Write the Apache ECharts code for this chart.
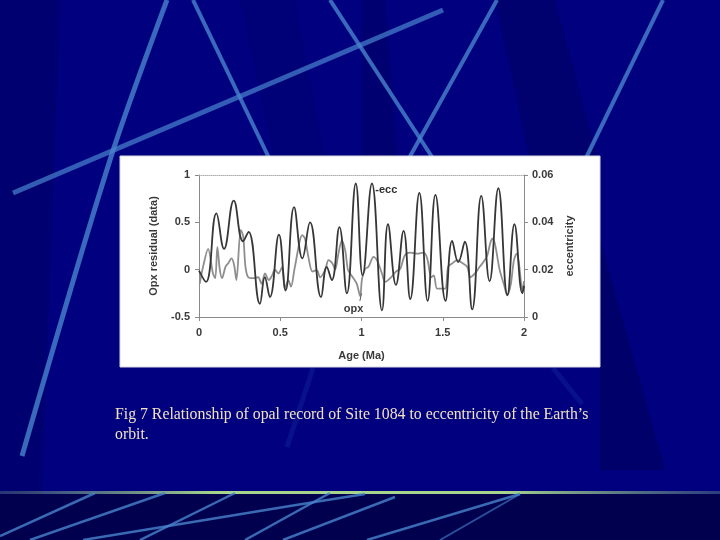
<!DOCTYPE html>
<html><head><meta charset="utf-8">
<script src="https://cdn.jsdelivr.net/npm/echarts@6.0.0/dist/echarts.min.js"></script>
<style>html,body{margin:0;padding:0;background:#00007e}#c{width:720px;height:540px}</style>
</head><body><div id="c"></div>
<script>
// Age (Ma) and eccentricity (right axis)
const eccAge = [0.000,0.043,0.107,0.154,0.214,0.271,0.305,0.375,0.405,0.436,0.492,0.533,0.585,0.636,0.683,0.751,0.786,0.817,0.864,0.910,0.965,1.007,1.064,1.126,1.163,1.212,1.259,1.300,1.356,1.407,1.455,1.517,1.558,1.595,1.636,1.681,1.737,1.788,1.842,1.898,1.941,1.990,2.000];
const eccValue = [0.0196,0.0148,0.0438,0.0288,0.0492,0.0320,0.0360,0.0056,0.0168,0.0084,0.0348,0.0112,0.0464,0.0248,0.0400,0.0084,0.0212,0.0156,0.0380,0.0100,0.0564,0.0176,0.0564,0.0028,0.0392,0.0136,0.0364,0.0076,0.0524,0.0068,0.0516,0.0068,0.0322,0.0232,0.0318,0.0032,0.0512,0.0152,0.0544,0.0092,0.0392,0.0100,0.0132];
// Age (Ma) and Opx residual (left axis)
const opxAge = [0.004,0.025,0.056,0.086,0.100,0.113,0.128,0.142,0.163,0.179,0.200,0.216,0.230,0.257,0.272,0.286,0.303,0.333,0.364,0.385,0.406,0.430,0.450,0.467,0.488,0.512,0.529,0.550,0.566,0.590,0.636,0.652,0.673,0.698,0.725,0.745,0.776,0.797,0.821,0.838,0.858,0.879,0.900,0.916,0.930,0.950,0.971,0.992,1.003,1.023,1.043,1.074,1.095,1.126,1.146,1.177,1.212,1.239,1.266,1.300,1.342,1.383,1.404,1.430,1.445,1.465,1.496,1.517,1.533,1.558,1.589,1.620,1.650,1.671,1.698,1.727,1.750,1.774,1.794,1.809,1.825,1.850,1.877,1.897,1.918,1.938,1.955,1.969,1.990,2.000];
const opxValue = [-0.15,0.03,0.22,-0.04,-0.09,0.24,0.00,-0.09,0.03,0.065,0.12,0.05,-0.11,0.42,0.35,0.03,-0.08,-0.09,-0.08,-0.15,-0.04,-0.11,-0.06,0.00,-0.04,0.03,-0.20,-0.11,-0.18,0.03,0.365,0.33,0.135,-0.02,-0.005,-0.08,-0.005,0.10,0.065,0.00,0.17,0.31,0.20,0.00,-0.04,-0.09,-0.15,-0.28,-0.10,0.01,0.03,0.135,0.10,-0.04,-0.13,-0.09,-0.02,0.01,0.15,0.18,0.17,0.18,0.12,-0.08,-0.06,-0.20,-0.20,-0.20,0.03,0.065,0.10,0.07,0.03,-0.08,-0.04,0.03,0.08,0.15,0.29,0.33,0.24,0.00,-0.16,-0.27,-0.16,0.10,0.17,0.065,-0.22,-0.12];

const xTicks = {min: 0, max: 2, interval: 0.5};
const leftTicks = {min: -0.5, max: 1, interval: 0.5};
const rightTicks = {min: 0, max: 0.06, interval: 0.02};
const caption = 'Fig 7 Relationship of opal record of Site 1084 to eccentricity of the Earth\u2019s\norbit.';

const chart = echarts.init(document.getElementById('c'), null, {renderer: 'canvas'});

const lineBlue = 'rgba(72,132,205,0.8)';
const bg = [
  {type: 'rect', z: -100, shape: {x: 0, y: 0, width: 720, height: 540}, style: {fill: '#010180'}},
  {type: 'polygon', z: -99, shape: {points: [[0,0],[60,0],[40,540],[0,540]]}, style: {fill: 'rgba(0,0,40,0.18)'}},
  {type: 'polygon', z: -99, shape: {points: [[240,0],[295,0],[325,160],[275,160]]}, style: {fill: 'rgba(0,0,40,0.1)'}},
  {type: 'polygon', z: -99, shape: {points: [[362,0],[385,0],[398,160],[362,160]]}, style: {fill: 'rgba(0,0,40,0.18)'}},
  {type: 'polygon', z: -99, shape: {points: [[495,0],[555,0],[598,160],[530,160]]}, style: {fill: 'rgba(0,0,40,0.2)'}},
  {type: 'polygon', z: -99, shape: {points: [[600,240],[600,470],[665,470]]}, style: {fill: 'rgba(0,0,40,0.25)'}},
  {type: 'rect', z: -98, shape: {x: 0, y: 494, width: 720, height: 46}, style: {fill: '#00004f'}},
  {type: 'rect', z: -97, shape: {x: 0, y: 491, width: 720, height: 3},
    style: {fill: new echarts.graphic.LinearGradient(0, 0, 1, 0, [
      {offset: 0, color: 'rgba(110,150,130,0.35)'}, {offset: 0.3, color: '#a6d68c'},
      {offset: 0.7, color: '#a6d68c'}, {offset: 1, color: 'rgba(110,150,130,0.4)'}])}},
  {type: 'polyline', z: -96, shape: {points: [[167,0],[110,160],[22,456]], smooth: 0.3}, style: {stroke: lineBlue, lineWidth: 5, fill: null}},
  {type: 'line', z: -96, shape: {x1: 193, y1: 0, x2: 270, y2: 160}, style: {stroke: lineBlue, lineWidth: 4}},
  {type: 'line', z: -96, shape: {x1: 13, y1: 193, x2: 443, y2: 10},
    style: {lineWidth: 5, stroke: new echarts.graphic.LinearGradient(0, 0, 1, 0, [
      {offset: 0, color: 'rgba(72,132,205,0.12)'}, {offset: 0.25, color: 'rgba(72,132,205,0.8)'},
      {offset: 1, color: 'rgba(72,132,205,0.7)'}], true)}},
  {type: 'line', z: -96, shape: {x1: 330, y1: 0, x2: 434, y2: 160}, style: {stroke: lineBlue, lineWidth: 4}},
  {type: 'line', z: -96, shape: {x1: 497, y1: 0, x2: 408, y2: 160}, style: {stroke: lineBlue, lineWidth: 4}},
  {type: 'line', z: -96, shape: {x1: 663, y1: 0, x2: 585, y2: 160}, style: {stroke: lineBlue, lineWidth: 4}},
  {type: 'line', z: -96, shape: {x1: 313, y1: 368, x2: 287, y2: 447}, style: {stroke: 'rgba(72,132,205,0.13)', lineWidth: 5}},
  {type: 'line', z: -96, shape: {x1: 553, y1: 368, x2: 582, y2: 404}, style: {stroke: 'rgba(72,132,205,0.13)', lineWidth: 5}},
  // bottom band strokes
  {type: 'line', z: -95, shape: {x1: 0, y1: 536, x2: 95, y2: 493}, style: {stroke: lineBlue, lineWidth: 2.5}},
  {type: 'line', z: -95, shape: {x1: 30, y1: 540, x2: 165, y2: 493}, style: {stroke: lineBlue, lineWidth: 2.5}},
  {type: 'polyline', z: -95, shape: {points: [[83,540],[290,506],[365,494]], smooth: 0.3}, style: {stroke: lineBlue, lineWidth: 2.5, fill: null}},
  {type: 'line', z: -95, shape: {x1: 140, y1: 540, x2: 235, y2: 493}, style: {stroke: lineBlue, lineWidth: 2.5}},
  {type: 'line', z: -95, shape: {x1: 245, y1: 540, x2: 330, y2: 493}, style: {stroke: lineBlue, lineWidth: 2.5}},
  {type: 'line', z: -95, shape: {x1: 283, y1: 540, x2: 395, y2: 497}, style: {stroke: lineBlue, lineWidth: 2.5}},
  {type: 'line', z: -95, shape: {x1: 367, y1: 540, x2: 520, y2: 494}, style: {stroke: lineBlue, lineWidth: 2.5}},
  {type: 'line', z: -95, shape: {x1: 440, y1: 540, x2: 520, y2: 494}, style: {stroke: 'rgba(72,132,205,0.6)', lineWidth: 2}},
  // chart panel
  {type: 'rect', z: -50, shape: {x: 120, y: 156, width: 480, height: 211}, style: {fill: '#ffffff', stroke: '#d8d8e0', lineWidth: 1}},
  {type: 'text', z: 10, x: 115, y: 405,
    style: {text: caption, font: '15.8px "Liberation Serif", "Times New Roman", serif', fill: '#f2e2c2', lineHeight: 20}}
];

const axisLabel = {color: '#3a3a3a', fontSize: 11, fontWeight: 'bold', fontFamily: '"Liberation Sans", Arial, sans-serif'};
const axisName = {color: '#3a3a3a', fontSize: 11, fontWeight: 'bold', fontFamily: '"Liberation Sans", Arial, sans-serif'};
const axLine = {show: true, onZero: false, lineStyle: {color: '#8a8a8a', width: 1}};

chart.setOption({
  animation: false,
  backgroundColor: 'transparent',
  graphic: {elements: bg},
  grid: {left: 199, right: 196, top: 175, bottom: 223, containLabel: false},
  xAxis: [
    {type: 'value', min: xTicks.min, max: xTicks.max, interval: xTicks.interval, position: 'bottom',
     name: 'Age (Ma)', nameLocation: 'middle', nameGap: 33, nameTextStyle: axisName,
     axisLine: axLine, axisTick: {show: true, length: 4, lineStyle: {color: '#8a8a8a'}},
     axisLabel: Object.assign({margin: 10}, axisLabel), splitLine: {show: false}},
    {type: 'value', min: xTicks.min, max: xTicks.max, position: 'top',
     axisLine: {show: true, onZero: false, lineStyle: {color: '#b0b0b0', width: 1, type: 'dotted'}},
     axisTick: {show: false}, axisLabel: {show: false}, splitLine: {show: false}}
  ],
  yAxis: [
    {type: 'value', min: leftTicks.min, max: leftTicks.max, interval: leftTicks.interval, position: 'left',
     name: 'Opx residual (data)', nameLocation: 'middle', nameGap: 40, nameTextStyle: axisName,
     axisLine: axLine, axisTick: {show: true, length: 4, lineStyle: {color: '#8a8a8a'}},
     axisLabel: Object.assign({margin: 9}, axisLabel), splitLine: {show: false}},
    {type: 'value', min: rightTicks.min, max: rightTicks.max, interval: rightTicks.interval, position: 'right',
     name: 'eccentricity', nameLocation: 'middle', nameGap: 40, nameTextStyle: axisName,
     axisLine: axLine, axisTick: {show: true, length: 4, lineStyle: {color: '#8a8a8a'}},
     axisLabel: Object.assign({margin: 8}, axisLabel), splitLine: {show: false}}
  ],
  series: [
    {name: 'opx', type: 'line', xAxisIndex: 0, yAxisIndex: 0, z: 2,
     data: opxAge.map((a, i) => [a, opxValue[i]]),
     smooth: 0.3, symbol: 'none', lineStyle: {color: '#8e8e8e', width: 1.8},
     markPoint: {symbol: 'circle', symbolSize: 0, silent: true,
       label: {show: true, position: 'inside', formatter: 'opx', color: '#3a3a3a', fontSize: 11, fontWeight: 'bold', fontFamily: '"Liberation Sans", Arial, sans-serif'},
       data: [{coord: [0.951, -0.42]}]},
     markLine: {symbol: 'none', silent: true, label: {show: false}, lineStyle: {color: '#555', width: 1, type: 'solid'},
       data: [[{coord: [0.99, -0.33]}, {coord: [1.0, -0.25]}]]}},
    {name: 'ecc', type: 'line', xAxisIndex: 0, yAxisIndex: 1, z: 3,
     data: eccAge.map((a, i) => [a, eccValue[i]]),
     smooth: 0.45, symbol: 'none', lineStyle: {color: '#363636', width: 1.8},
     markPoint: {symbol: 'circle', symbolSize: 0, silent: true,
       label: {show: true, position: 'right', distance: 0, formatter: '-ecc', color: '#2e2e2e', fontSize: 11, fontWeight: 'bold', fontFamily: '"Liberation Sans", Arial, sans-serif'},
       data: [{coord: [1.085, 0.0538]}]}}
  ]
});
</script>
</body></html>
